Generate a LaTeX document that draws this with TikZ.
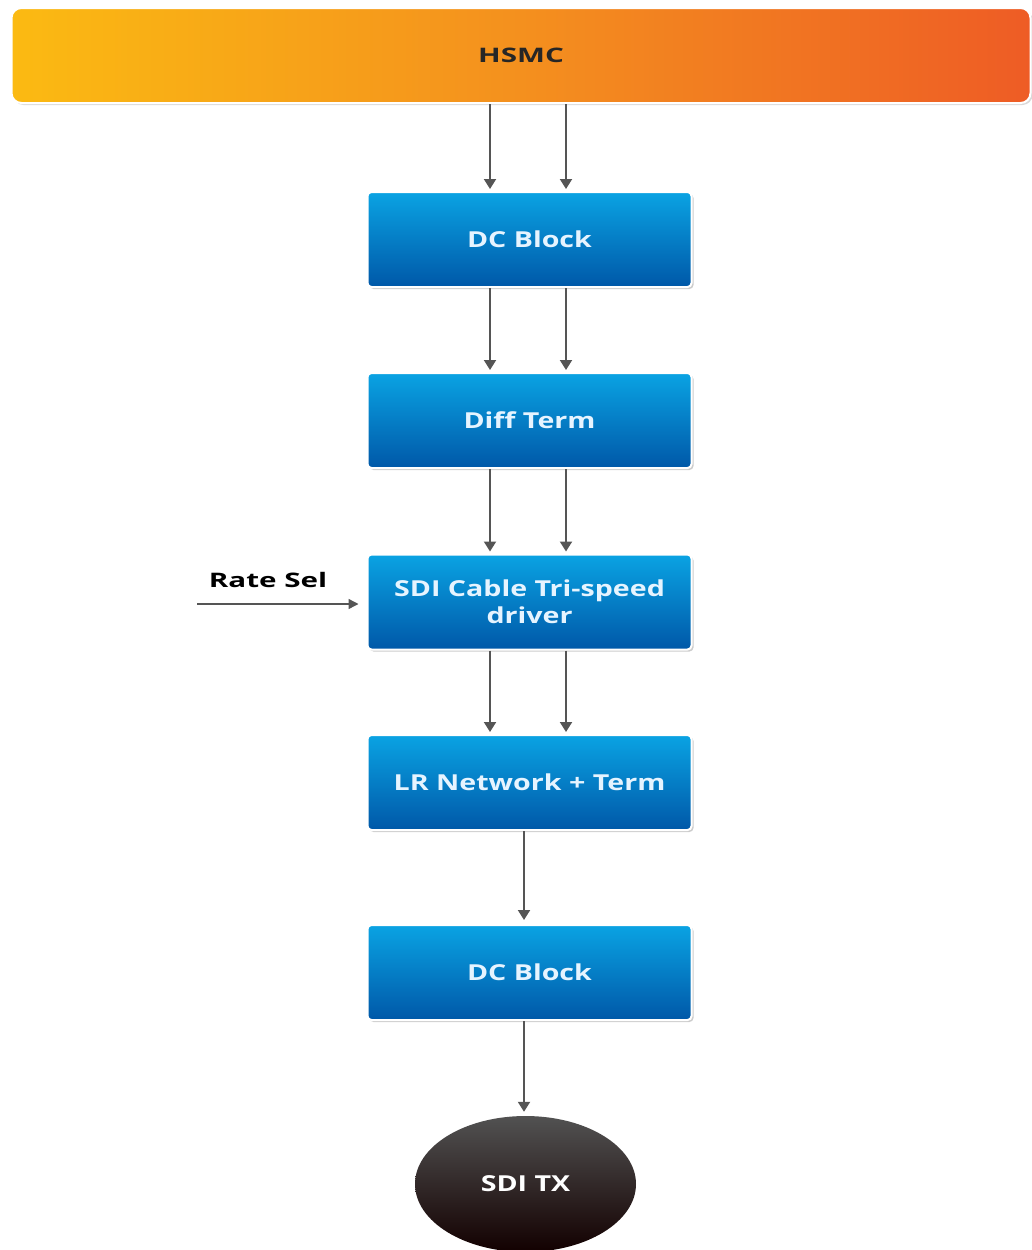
\documentclass[tikz,border=0pt]{standalone}
\usepackage{fontspec}
\setmainfont{Open Sans}
\newfontfamily\boxfont[FakeStretch=1.3]{Open Sans}
\newfontfamily\lblfont[FakeStretch=1.48]{Open Sans}
\usetikzlibrary{arrows.meta,shapes.geometric,shadows}
\definecolor{hsmcL}{HTML}{FBBA12}
\definecolor{hsmcM}{HTML}{F4901E}
\definecolor{hsmcR}{HTML}{EE5C25}
\definecolor{blueT}{HTML}{0AA3E3}
\definecolor{blueB}{HTML}{0058A8}
\definecolor{arrowc}{HTML}{555555}
\definecolor{txtb}{HTML}{E6F4FF}
\begin{document}
\begin{tikzpicture}[x=1pt,y=-1pt,
  bluebox/.style={draw=white,line width=2pt,rounded corners=4pt,
    top color=blueT,bottom color=blueB,minimum width=324pt,minimum height=95pt,
    text=txtb,font=\boxfont\fontsize{22}{27}\selectfont\bfseries,align=center,
    drop shadow={opacity=0.4,shadow xshift=2pt,shadow yshift=-2pt}},
  conn/.style={draw=arrowc,line width=2pt,-{Triangle[width=12pt,length=10pt]}}]
\useasboundingbox (0,0) rectangle (1031,1250);
\node[draw=white,line width=2pt,rounded corners=10pt,left color=hsmcL,right color=hsmcR,middle color=hsmcM,
  minimum width=1019pt,minimum height=95pt,font=\lblfont\fontsize{20}{24}\selectfont\bfseries,text=black!85,
  drop shadow={opacity=0.3,shadow xshift=2pt,shadow yshift=-2pt}] (hsmc) at (521,55.5) {HSMC};
\node[bluebox] (dc1) at (529.5,239.5) {DC Block};
\node[bluebox] (diff) at (529.5,420.5) {Diff Term};
\node[bluebox] (sdi) at (529.5,602) {SDI Cable Tri-speed\\driver};
\node[bluebox] (lr) at (529.5,782.5) {LR Network + Term};
\node[bluebox] (dc2) at (529.5,972.5) {DC Block};
\node[ellipse,minimum width=221pt,minimum height=136pt,top color=black!68,bottom color=black!88!red!60!black,
  text=white,font=\boxfont\fontsize{22}{26}\selectfont\bfseries] (tx) at (525.5,1184) {SDI TX};
\node[font=\lblfont\fontsize{20}{24}\selectfont\bfseries,text=black] (rate) at (268,580) {Rate Sel};
\coordinate (ratestart) at (197,604);
% double connectors
\foreach \a/\b in {hsmc/dc1,dc1/diff,diff/sdi,sdi/lr}{
  \draw[conn,shorten >=2pt] (\a.south -| 490,0) -- (\b.north -| 490,0);
  \draw[conn,shorten >=2pt] (\a.south -| 566,0) -- (\b.north -| 566,0);
}
\draw[conn,shorten >=4pt] (lr.south -| 524,0) -- (dc2.north -| 524,0);
\draw[conn,shorten >=4pt] (dc2.south -| 524,0) -- (tx.north -| 524,0);
\draw[draw=arrowc,line width=1.4pt,shorten >=8pt,-{Triangle[width=10pt,length=10pt]}] (ratestart) -- (sdi.west |- ratestart);
\end{tikzpicture}
\end{document}
